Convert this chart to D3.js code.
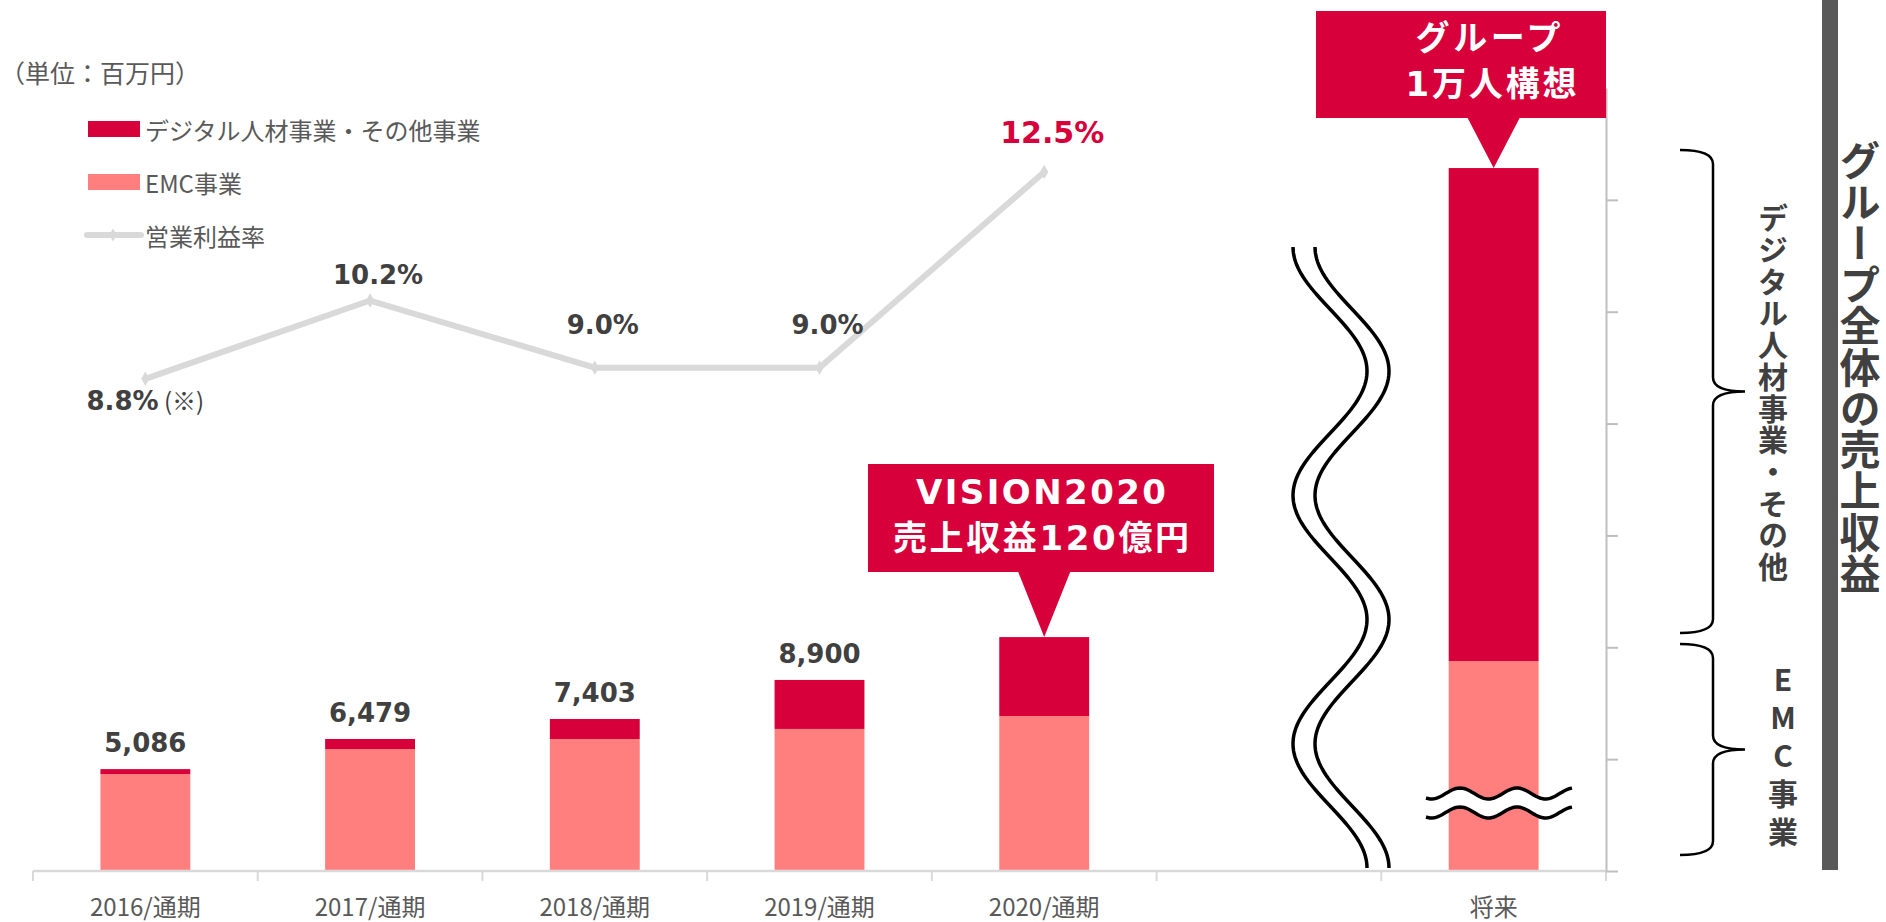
<!DOCTYPE html>
<html>
<head>
<meta charset="utf-8">
<script src="https://cdn.jsdelivr.net/npm/d3@7"></script>
<style>
body { margin: 0; background: #fff; }
svg { display: block; }
</style>
</head>
<body>
<div id="chart"></div>
<script>
// data
var categories = ["2016/通期", "2017/通期", "2018/通期", "2019/通期", "2020/通期", "", "将来"];
var emcSales = [4730, 5950, 6440, 6930, 7560, 0, 10240];
var digitalSales = [240, 490, 975, 2390, 3850, 0, 24050];
var totalLabels = ["5,086", "6,479", "7,403", "8,900", "", "", ""];
var marginRates = [8.8, 10.2, 9.0, 9.0, 12.5];
var rateLabels = ["8.8%", "10.2%", "9.0%", "9.0%", "12.5%"];
var rateTicks = [0, 2, 4, 6, 8, 10, 12];
var legendItems = ["デジタル人材事業・その他事業", "EMC事業", "営業利益率"];

var width = 1886, height = 922;
var red = "#d7003a", pink = "#ff7f7f", lineGray = "#d9d9d9", textGray = "#404040";
var numFont = "'DejaVu Sans', 'Noto Sans CJK JP', sans-serif";
var jpFont = "'Noto Sans CJK JP', sans-serif";

var svg = d3.select("#chart").append("svg")
    .attr("width", width)
    .attr("height", height);

var x = d3.scaleBand().domain(categories).range([33, 1606]).paddingInner(0.6).paddingOuter(0.3);
var yBar = d3.scaleLinear().domain([0, 40000]).range([871, 51]);
var yRate = d3.scaleLinear().domain([0, 14]).range([871, 88]);
var cx = function(i) { return x(categories[i]) + x.bandwidth() / 2; };

// unit + legend
svg.append("text")
  .attr("x", 0).attr("y", 72)
  .attr("dominant-baseline", "central")
  .style("font-family", jpFont).style("font-size", "25px").style("fill", "#595959")
  .text("（単位：百万円）");

var legend = svg.append("g").attr("class", "legend")
  .selectAll("g").data(legendItems).enter().append("g")
  .attr("transform", function(d, i) { return "translate(0," + (129 + i * 53) + ")"; });

legend.filter(function(d, i) { return i < 2; }).append("rect")
  .attr("x", 88).attr("y", -8).attr("width", 52).attr("height", 16)
  .attr("fill", function(d, i) { return i === 0 ? red : pink; });

var lg = legend.filter(function(d, i) { return i === 2; });
lg.append("line").attr("x1", 87).attr("x2", 141).attr("y1", 0).attr("y2", 0)
  .attr("stroke", lineGray).attr("stroke-width", 6).attr("stroke-linecap", "round");
lg.append("path").attr("transform", "translate(113,0)")
  .attr("d", d3.symbol(d3.symbolDiamond, 50)).attr("fill", lineGray);

legend.append("text")
  .attr("x", 145).attr("y", 0)
  .attr("dominant-baseline", "central")
  .style("font-family", jpFont).style("font-size", "24px").style("fill", "#595959")
  .text(function(d) { return d; });

// stacked bars
var rows = categories.map(function(c, i) {
  return {cat: c, emc: emcSales[i], digital: digitalSales[i]};
});
var series = d3.stack().keys(["emc", "digital"])(rows);

svg.append("g").attr("class", "bars")
  .selectAll("g").data(series).enter().append("g")
  .attr("fill", function(d) { return d.key === "emc" ? pink : red; })
  .selectAll("rect").data(function(d) { return d.filter(function(p) { return p[1] > p[0]; }); })
  .enter().append("rect")
  .attr("x", function(d) { return x(d.data.cat); })
  .attr("width", x.bandwidth())
  .attr("y", function(d) { return yBar(d[1]); })
  .attr("height", function(d) { return yBar(d[0]) - yBar(d[1]); });

svg.append("g").attr("class", "bar-labels")
  .selectAll("text").data(rows).enter().append("text")
  .attr("x", function(d) { return x(d.cat) + x.bandwidth() / 2; })
  .attr("y", function(d) { return yBar(d.emc + d.digital) - 17; })
  .attr("text-anchor", "middle")
  .style("font-family", numFont).style("font-weight", "bold").style("font-size", "26px")
  .style("fill", textGray)
  .text(function(d, i) { return totalLabels[i]; });

// x axis: line, ticks at band edges, labels
var x0 = x.range()[0], step = x.step();
var xAxis = svg.append("g").attr("class", "x-axis");
xAxis.append("line").attr("x1", x0).attr("x2", x.range()[1]).attr("y1", 871).attr("y2", 871)
  .attr("stroke", lineGray).attr("stroke-width", 2.5);
xAxis.selectAll(".tick").data(d3.range(categories.length + 1)).enter().append("line")
  .attr("x1", function(i) { return x0 + i * step; })
  .attr("x2", function(i) { return x0 + i * step; })
  .attr("y1", 871).attr("y2", 881)
  .attr("stroke", lineGray).attr("stroke-width", 2);
xAxis.selectAll("text").data(categories).enter().append("text")
  .attr("x", function(d) { return x(d) + x.bandwidth() / 2; })
  .attr("y", 905)
  .attr("text-anchor", "middle").attr("dominant-baseline", "central")
  .style("font-family", jpFont).style("font-size", "24px").style("fill", "#595959")
  .text(function(d) { return d; });

// right axis for the margin line (no labels)
var rAxis = svg.append("g").attr("class", "r-axis")
  .attr("transform", "translate(1606,0)")
  .call(d3.axisRight(yRate).tickValues(rateTicks).tickSize(12).tickSizeOuter(0).tickFormat(""));
rAxis.selectAll("path, line").attr("stroke", "#bfbfbf").attr("stroke-width", 2);

// wavy break across the gap
var waveTop = 247, waveBottom = 868, half = (waveBottom - waveTop) / 5;
function waveX(y) { return 1341 - 37 * Math.cos(Math.PI * (y - waveTop) / half); }
var ys = d3.range(waveTop, waveBottom + 1, 3);
var leftEdge = ys.map(function(y) { return [waveX(y) - 11, y]; });
var rightEdge = ys.map(function(y) { return [waveX(y) + 11, y]; });
var lineGen = d3.line();
var brk = svg.append("g").attr("class", "break");
brk.append("path").attr("d", lineGen(leftEdge.concat(rightEdge.slice().reverse())) + "Z")
  .attr("fill", "#fff");
brk.selectAll(".edge").data([leftEdge, rightEdge]).enter().append("path")
  .attr("d", lineGen).attr("fill", "none").attr("stroke", "#000").attr("stroke-width", 3.5);

// small break on the future bar
var xs = d3.range(1426, 1574, 2);
function hWave(xv, base) { return base - 5.5 * Math.cos(2 * Math.PI * (xv - 1460) / 57); }
var upper = xs.map(function(v) { return [v, hWave(v, 793.5)]; });
var lower = xs.map(function(v) { return [v, hWave(v, 812.5)]; });
brk.append("path").attr("d", lineGen(upper.concat(lower.slice().reverse())) + "Z").attr("fill", "#fff");
brk.selectAll(".hedge").data([upper, lower]).enter().append("path")
  .attr("d", lineGen).attr("fill", "none").attr("stroke", "#000").attr("stroke-width", 3.5);

// operating margin line
var ratePts = marginRates.map(function(v, i) { return [cx(i), yRate(v)]; });
svg.append("path").attr("d", d3.line()(ratePts))
  .attr("fill", "none").attr("stroke", lineGray).attr("stroke-width", 6);
svg.selectAll(".marker").data(ratePts).enter().append("path")
  .attr("transform", function(d) { return "translate(" + d[0] + "," + d[1] + ")"; })
  .attr("d", d3.symbol(d3.symbolDiamond, 60)).attr("fill", lineGray);

// label placement around each point (first one sits below)
var labelDy = [31, -17, -34, -34, -29];
var rateText = svg.append("g").attr("class", "rate-labels")
  .selectAll("text").data(ratePts).enter().append("text")
  .attr("x", function(d, i) { return d[0] + (i === 0 ? 0 : 8); })
  .attr("y", function(d, i) { return d[1] + labelDy[i]; })
  .attr("text-anchor", "middle")
  .style("font-family", numFont).style("font-weight", "bold")
  .style("font-size", function(d, i) { return i === 4 ? "30px" : "26px"; })
  .style("fill", function(d, i) { return i === 4 ? red : textGray; });
rateText.append("tspan").text(function(d, i) { return rateLabels[i]; });
rateText.filter(function(d, i) { return i === 0; }).append("tspan")
  .style("font-family", jpFont).style("font-weight", "normal").style("font-size", "24px")
  .text(" (※)");

// callouts
function callout(rx0, rx1, ry0, ry1, tipX, tipY, lines) {
  var g = svg.append("g").attr("class", "callout");
  g.append("path")
    .attr("d", "M" + rx0 + "," + ry0 + "H" + rx1 + "V" + ry1 + "H" + (tipX + 26) +
      "L" + tipX + "," + tipY + "L" + (tipX - 26) + "," + ry1 + "H" + rx0 + "Z")
    .attr("fill", red);
  g.selectAll("text").data(lines).enter().append("text")
    .attr("x", function(d) { return d.x; })
    .attr("y", function(d) { return d.y; })
    .attr("text-anchor", "middle").attr("dominant-baseline", "central")
    .attr("textLength", function(d) { return d.w; })
    .attr("lengthAdjust", "spacing")
    .style("font-family", numFont).style("font-weight", "bold").style("font-size", "34px")
    .style("fill", "#fff")
    .text(function(d) { return d.t; });
}
var c2020 = rows[4], cFut = rows[6];
callout(868, 1214, 464, 572, cx(4), yBar(c2020.emc + c2020.digital), [
  {t: "VISION2020", x: 1041, y: 492, w: 250},
  {t: "売上収益120億円", x: 1041, y: 538, w: 296}
]);
callout(1316, 1606, 11, 118, cx(6), yBar(cFut.emc + cFut.digital), [
  {t: "グループ", x: 1488, y: 38, w: 145},
  {t: "1万人構想", x: 1491, y: 84, w: 171}
]);

// braces on the right
function brace(top, bottom) {
  var mid = (top + bottom) / 2;
  return "M1680," + top + "Q1713," + top + " 1713," + (top + 14) +
    "L1713," + (mid - 14) + "Q1713," + mid + " 1745," + mid +
    "Q1713," + mid + " 1713," + (mid + 14) +
    "L1713," + (bottom - 14) + "Q1713," + bottom + " 1680," + bottom;
}
svg.selectAll(".brace").data([[150, 633], [644, 855]]).enter().append("path")
  .attr("d", function(d) { return brace(d[0], d[1]); })
  .attr("fill", "none").attr("stroke", "#000").attr("stroke-width", 2.5);

function vtext(t, xv, yv, size, spacing) {
  svg.append("text")
    .attr("x", xv).attr("y", yv)
    .style("writing-mode", "vertical-rl")
    .style("text-orientation", "upright")
    .style("font-family", jpFont).style("font-weight", "bold")
    .style("font-size", size + "px").style("letter-spacing", spacing + "px")
    .style("fill", textGray)
    .text(t);
}
vtext("デジタル人材事業・その他", 1773, 203, 30, 1.7);
vtext("EMC事業", 1783, 665, 30, 8);

svg.append("rect").attr("x", 1822).attr("y", 0).attr("width", 16).attr("height", 870)
  .attr("fill", "#595959");
vtext("グループ全体の売上収益", 1860, 140, 41, 0.3);
</script>
</body>
</html>
